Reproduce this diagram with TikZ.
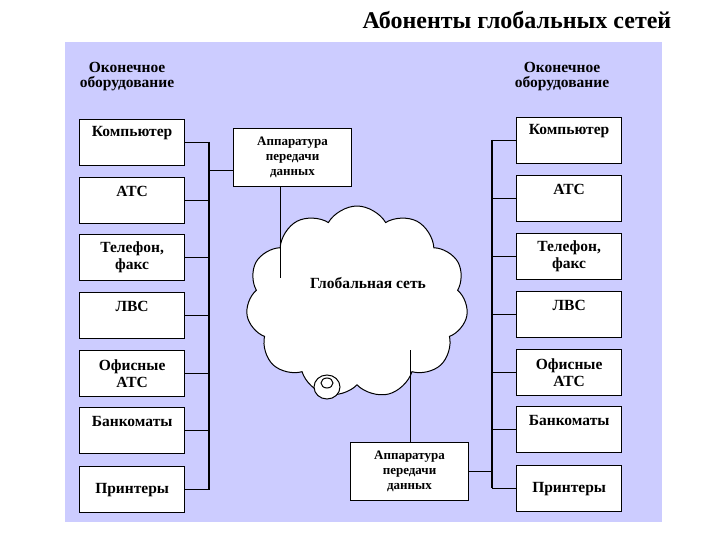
\documentclass[tikz,border=0pt]{standalone}
\usepackage{fontspec}
\setmainfont{Liberation Serif}
\usetikzlibrary{shapes.symbols}
\begin{document}
\begin{tikzpicture}[x=1pt,y=-1pt,
  dev/.style={draw,fill=white,line width=1.3pt,minimum width=105pt,minimum height=46pt,anchor=north west,inner sep=0pt,font=\bfseries\fontsize{15.5}{17}\selectfont,align=center},
  one/.style={label={[yshift=-14pt,anchor=center,font=\bfseries\fontsize{15.5}{17}\selectfont]north:#1}},
  apd/.style={draw,fill=white,line width=1pt,minimum width=118pt,minimum height=58pt,anchor=north west,inner sep=0pt,font=\bfseries\fontsize{13}{15}\selectfont,align=center},
  hdr/.style={font=\bfseries\fontsize{15.5}{15}\selectfont,align=center},
  ln/.style={line width=1.2pt}]
\useasboundingbox (0,0) rectangle (720,540);
\fill[white] (0,0) rectangle (720,540);
\fill[blue!20] (65,42) rectangle (662,522);
\node[font=\bfseries\fontsize{24}{26}\selectfont] (title) at (517,20) {Абоненты глобальных сетей};
\node[hdr] (hl) at (127,77) {Оконечное\\оборудование};
\node[hdr] (hr) at (562,77) {Оконечное\\оборудование};
% cloud
\node[cloud,cloud puffs=11,cloud puff arc=120,draw,fill=white,line width=1pt,minimum width=222pt,minimum height=192pt,aspect=1.15] (net) at (357,302) {};
\node[font=\bfseries\fontsize{15.5}{17}\selectfont] (netl) at (368,283) {Глобальная сеть};
\draw[fill=white,line width=1pt] (327,387) ellipse (13 and 12);
\draw[fill=white,line width=1pt] (327,383) ellipse (6 and 5);
% left
\node[dev,one=Компьютер] (l1) at (79,119) {};
\node[dev,one=АТС] (l2) at (79,177) {};
\node[dev] (l3) at (79,234) {Телефон,\\факс};
\node[dev,one=ЛВС] (l4) at (79,292) {};
\node[dev] (l5) at (79,350) {Офисные\\АТС};
\node[dev,one=Банкоматы] (l6) at (79,407) {};
\node[dev] (l7) at (79,466) {Принтеры};
\node[dev,one=Компьютер] (r1) at (516,117) {};
\node[dev,one=АТС] (r2) at (516,175) {};
\node[dev] (r3) at (516,233) {Телефон,\\факс};
\node[dev,one=ЛВС] (r4) at (516,291) {};
\node[dev] (r5) at (516,349) {Офисные\\АТС};
\node[dev,one=Банкоматы] (r6) at (516,406) {};
\node[dev] (r7) at (516,465) {Принтеры};
\coordinate (lbt) at (209,142); \coordinate (lbb) at (209,490);
\coordinate (rbt) at (492,140); \coordinate (rbb) at (492,488);
\draw[ln] (lbt) -- (lbb);
\draw[ln] (rbt) -- (rbb);
\foreach \n in {l1,l2,l3,l4,l5,l6,l7} \draw[ln] (\n.east) -- (\n.east -| lbt);
\foreach \n in {r1,r2,r3,r4,r5,r6,r7} \draw[ln] (\n.west) -- (\n.west -| rbt);
\node[apd] (a1) at (233,128) {Аппаратура\\передачи\\данных};
\node[apd] (a2) at (350,442) {Аппаратура\\передачи\\данных};
\draw[line width=1pt] (a1.west |- 0,171) -- (209,171);
\draw[line width=1pt] (a2.east |- 0,471) -- (492,471);
\coordinate (c1) at (280,278);
\coordinate (c2) at (410,350);
\draw[line width=1pt] (a1.south -| c1) -- (c1);
\draw[line width=1pt] (a2.north -| c2) -- (c2);
\end{tikzpicture}
\end{document}
